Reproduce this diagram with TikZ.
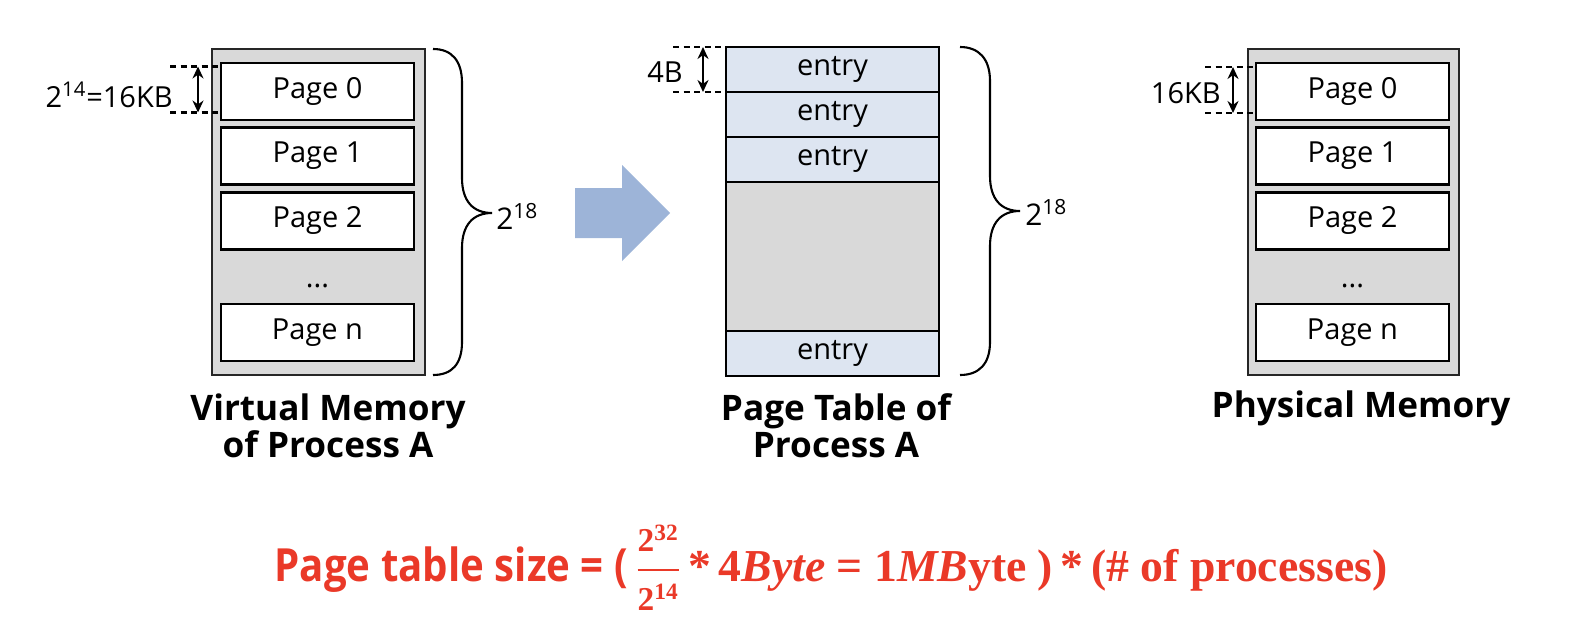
\documentclass[tikz,border=0pt]{standalone}
\usepackage{amsmath}
\usepackage{fontspec}
\setmainfont{Open Sans}
\newfontfamily\formsans[FakeStretch=0.88]{Open Sans}
\newfontfamily\formserif{Liberation Serif}
\usepackage{tikz}
\usetikzlibrary{arrows.meta, positioning, backgrounds}
\usepackage{xcolor}
\definecolor{memgray}{RGB}{217,217,217}
\definecolor{entryblue}{RGB}{221,229,241}
\definecolor{arrowblue}{RGB}{157,180,216}
\definecolor{formred}{RGB}{234,57,40}

\begin{document}
\begin{tikzpicture}[
    pagebox/.style={rectangle, draw=black, fill=white, line width=1.3pt,
                    minimum width=3.86cm, minimum height=1.14cm,
                    text height=0.75em, text depth=0pt,
                    font=\fontsize{16.5}{18}\selectfont, inner sep=0pt},
    entrybox/.style={rectangle, draw=black, fill=entryblue, line width=1.3pt,
                     minimum width=4.26cm, minimum height=0.9cm, outer sep=0pt,
                     text height=0.7em, text depth=0pt,
                     font=\fontsize{16.5}{18}\selectfont, inner sep=0pt},
    holebox/.style={entrybox, fill=memgray, minimum height=2.98cm},
    memlabel/.style={font=\fontsize{20}{21}\selectfont\bfseries, align=center},
    dimtext/.style={font=\fontsize{16.5}{18}\selectfont, anchor=east, inner sep=0pt},
    guide/.style={line width=1.3pt, dash pattern=on 3.5pt off 2.5pt},
    dimarrow/.style={{Stealth[length=2.4mm,width=2.2mm]}-{Stealth[length=2.4mm,width=2.2mm]},
                     line width=1.2pt},
    bracetext/.style={font=\fontsize{17}{18}\selectfont, anchor=west, inner sep=0pt},
    formula/.style={text=formred, anchor=base, inner sep=0pt,
                    font=\fontsize{26}{28}\selectfont},
]
  \path[use as bounding box] (0,0) rectangle (31.84,-12.56);

  % ---- virtual memory of process A ----
  \node[pagebox] (vp0) at (6.35,-1.83) {Page 0};
  \node[pagebox] (vp1) at (6.35,-3.12) {Page 1};
  \node[pagebox] (vp2) at (6.35,-4.42) {Page 2};
  \node[font=\fontsize{16.5}{18}\selectfont] (vdots) at (6.35,-5.72) {...};
  \node[pagebox] (vpn) at (6.35,-6.65) {Page n};
  \node[memlabel] (vlabel) at (6.56,-8.52) {Virtual Memory\\of Process A};

  % ---- page table of process A ----
  \node[entrybox] (e1) at (16.65,-1.39) {entry};
  \node[entrybox, below=0pt of e1] (e2) {entry};
  \node[entrybox, below=0pt of e2] (e3) {entry};
  \node[holebox,  below=0pt of e3] (hole) {};
  \node[entrybox, below=0pt of hole] (e4) {entry};
  \node[memlabel] (tlabel) at (16.72,-8.52) {Page Table of\\Process A};

  % ---- physical memory ----
  \node[pagebox] (pp0) at (27.05,-1.83) {Page 0};
  \node[pagebox] (pp1) at (27.05,-3.12) {Page 1};
  \node[pagebox] (pp2) at (27.05,-4.42) {Page 2};
  \node[font=\fontsize{16.5}{18}\selectfont] (pdots) at (27.05,-5.72) {...};
  \node[pagebox] (ppn) at (27.05,-6.65) {Page n};
  \node[memlabel] (plabel) at (27.22,-8.16) {Physical Memory};

  % ---- size marks ----
  \coordinate (vtopL) at (3.40,-1.33);  \coordinate (vtopR) at (4.44,-1.33);
  \coordinate (vbotL) at (3.40,-2.25);  \coordinate (vbotR) at (4.44,-2.25);
  \draw[guide] (vtopL) -- (vtopR);
  \draw[guide] (vbotL) -- (vbotR);
  \draw[dimarrow] (3.96,-1.33) -- (3.96,-2.25);
  \node[dimtext] (vsize) at (3.46,-1.90) {2\textsuperscript{14}=16KB};

  \coordinate (etopL) at (13.46,-0.94);
  \coordinate (ebotL) at (13.46,-1.84);
  \draw[guide] (etopL) -- (e1.north west);
  \draw[guide] (ebotL) -- (e1.south west);
  \draw[dimarrow] (14.06,-0.94) -- (14.06,-1.84);
  \node[dimtext] (esize) at (13.66,-1.44) {4B};

  \coordinate (ptopL) at (24.10,-1.34);  \coordinate (ptopR) at (25.14,-1.34);
  \coordinate (pbotL) at (24.10,-2.26);  \coordinate (pbotR) at (25.14,-2.26);
  \draw[guide] (ptopL) -- (ptopR);
  \draw[guide] (pbotL) -- (pbotR);
  \draw[dimarrow] (24.66,-1.34) -- (24.66,-2.26);
  \node[dimtext] (psize) at (24.42,-1.86) {16KB};

  % ---- braces ----
  \draw[line width=1.2pt]
    (8.66,-0.98) .. controls (9.04,-0.98) and (9.24,-1.22) .. (9.24,-1.66)
    -- (9.24,-3.56) .. controls (9.24,-4.02) and (9.46,-4.26) .. (9.84,-4.26)
    .. controls (9.46,-4.26) and (9.24,-4.50) .. (9.24,-4.96)
    -- (9.24,-6.84) .. controls (9.24,-7.28) and (9.04,-7.50) .. (8.66,-7.50);
  \node[bracetext] (vbrace) at (9.92,-4.32) {2\textsuperscript{18}};

  \draw[line width=1.2pt]
    (19.20,-0.94) .. controls (19.58,-0.94) and (19.80,-1.18) .. (19.80,-1.62)
    -- (19.80,-3.52) .. controls (19.80,-3.98) and (20.02,-4.22) .. (20.40,-4.22)
    .. controls (20.02,-4.22) and (19.80,-4.46) .. (19.80,-4.92)
    -- (19.80,-6.84) .. controls (19.80,-7.28) and (19.58,-7.50) .. (19.20,-7.50);
  \node[bracetext] (tbrace) at (20.50,-4.24) {2\textsuperscript{18}};

  % ---- block arrow ----
  \fill[arrowblue] (11.50,-3.76) -- (12.44,-3.76) -- (12.44,-3.30) -- (13.40,-4.26)
    -- (12.44,-5.22) -- (12.44,-4.76) -- (11.50,-4.76) -- cycle;

  % ---- size formula ----
  \node[formula] (form) at (16.62,-11.62) {%
    {\formsans\bfseries Page table size = (\,}%
    $\dfrac{\hbox{\formserif\bfseries\fontsize{19}{20}\selectfont 2\textsuperscript{32}}}%
           {\hbox{\formserif\bfseries\fontsize{19}{20}\selectfont 2\textsuperscript{14}}}$%
    {\formserif\bfseries\fontsize{26}{28}\selectfont
      \,*\,4\textit{Byte} = 1\textit{MB}yte )\,*\,(\# of processes)}};

  % ---- background boxes ----
  \begin{scope}[on background layer]
    \filldraw[draw=black!85, fill=memgray, line width=1.2pt]
      (4.24,-0.98) rectangle (8.50,-7.50);
    \filldraw[draw=black!85, fill=memgray, line width=1.2pt]
      (24.96,-0.98) rectangle (29.18,-7.50);
  \end{scope}
\end{tikzpicture}
\end{document}
